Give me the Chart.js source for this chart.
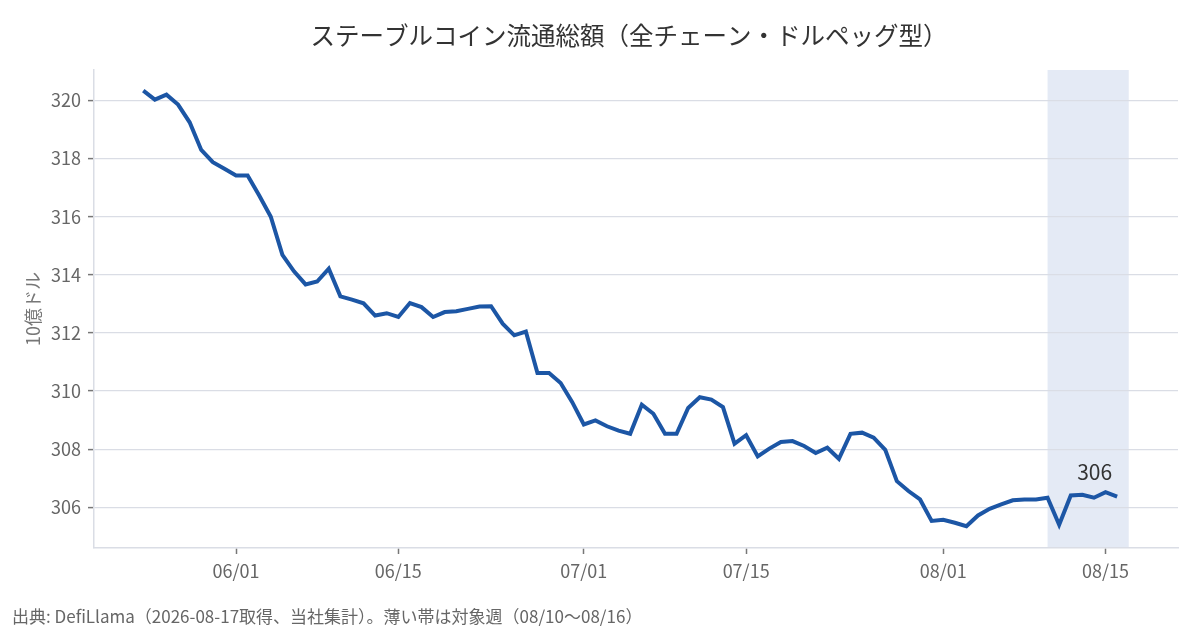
<!DOCTYPE html>
<html lang="ja">
<head>
<meta charset="utf-8">
<script src="https://cdn.jsdelivr.net/npm/chart.js@4.4.1/dist/chart.umd.min.js"></script>
<style>
  html, body { margin: 0; padding: 0; background: #fff; }
  #wrap { width: 1200px; height: 630px; }
</style>
</head>
<body>
<div id="wrap"><canvas id="chart" width="1200" height="630"></canvas></div>
<script>
// ========== データ ==========
const startDate = '2026-05-24';   // 最初の点
const supply = [
    320.34, 320.03, 320.20, 319.86, 319.25, 318.30, 317.88, 317.65, 317.42, 317.42,
    316.73, 316.00, 314.69, 314.12, 313.67, 313.77, 314.21, 313.26, 313.15, 313.02,
    312.60, 312.68, 312.55, 313.03, 312.89, 312.55, 312.72, 312.75, 312.83, 312.91,
    312.92, 312.32, 311.92, 312.05, 310.62, 310.62, 310.28, 309.62, 308.85, 308.99,
    308.79, 308.64, 308.53, 309.53, 309.22, 308.53, 308.53, 309.42, 309.79, 309.71,
    309.45, 308.19, 308.48, 307.75, 308.02, 308.25, 308.28, 308.11, 307.87, 308.05,
    307.67, 308.53, 308.57, 308.40, 307.98, 306.90, 306.56, 306.27, 305.53, 305.57,
    305.47, 305.35, 305.72, 305.95, 306.10, 306.24, 306.27, 306.27, 306.33, 305.40,
    306.41, 306.43, 306.33, 306.52, 306.37
];
const xTickLabels = ['06/01', '06/15', '07/01', '07/15', '08/01', '08/15'];
const yTicks = [306, 308, 310, 312, 314, 316, 318, 320];
const weekBand = ['08/10', '08/16'];

const titleText = 'ステーブルコイン流通総額（全チェーン・ドルペッグ型）';
const yAxisText = '10億ドル';
const footerText = '出典: DefiLlama（2026-08-17取得、当社集計）。薄い帯は対象週（08/10〜08/16）';

// 日付ラベル (MM/DD) を日ごとに作る
const dates = supply.map((_, i) => {
    const d = new Date(startDate + 'T00:00:00Z');
    d.setUTCDate(d.getUTCDate() + i);
    return String(d.getUTCMonth() + 1).padStart(2, '0') + '/' + String(d.getUTCDate()).padStart(2, '0');
});
const points = supply.map((v, i) => ({ x: i, y: v }));
const xTickIdx = xTickLabels.map(l => dates.indexOf(l));

const FONT = '"Noto Sans CJK JP", "Noto Sans", sans-serif';
const GRID = '#dadde5';
const TICK = '#777';

// ========== 帯・文字の描画 ==========
const decor = {
    id: 'decor',
    beforeDraw(chart) {
        const { ctx, chartArea, scales } = chart;
        const x0 = scales.x.getPixelForValue(dates.indexOf(weekBand[0]));
        const x1 = scales.x.getPixelForValue(dates.indexOf(weekBand[1]) + 1);
        ctx.save();
        ctx.fillStyle = '#e4eaf5';
        ctx.fillRect(x0, chartArea.top, x1 - x0, chartArea.bottom - chartArea.top);
        ctx.restore();
    },
    afterDraw(chart) {
        const { ctx, chartArea } = chart;
        ctx.save();
        // タイトル
        ctx.fillStyle = '#333';
        ctx.font = '24.5px ' + FONT;
        ctx.textAlign = 'center';
        ctx.textBaseline = 'middle';
        ctx.fillText(titleText, 629, 36);

        // 縦軸ラベル
        ctx.save();
        ctx.translate(33, (chartArea.top + chartArea.bottom) / 2);
        ctx.rotate(-Math.PI / 2);
        ctx.fillStyle = '#777';
        ctx.font = '18px ' + FONT;
        ctx.fillText(yAxisText, 0, 0);
        ctx.restore();

        // 最新値
        const meta = chart.getDatasetMeta(0);
        const last = meta.data[meta.data.length - 1];
        ctx.fillStyle = '#333';
        ctx.font = '21px ' + FONT;
        ctx.textAlign = 'right';
        ctx.fillText(String(Math.round(supply[supply.length - 1])), last.x - 5, last.y - 25);

        // 出典
        ctx.fillStyle = '#666';
        ctx.font = '17px ' + FONT;
        ctx.textAlign = 'left';
        ctx.fillText(footerText, 12, 617);
        ctx.restore();
    }
};

Chart.defaults.font.family = FONT;

new Chart(document.getElementById('chart'), {
    type: 'line',
    data: {
        datasets: [{
            data: points,
            borderColor: '#1c56a5',
            borderWidth: 4,
            pointRadius: 0,
            tension: 0,
            fill: false
        }]
    },
    options: {
        responsive: false,
        animation: false,
        devicePixelRatio: 1,
        layout: { padding: { top: 70, right: 22, bottom: 0, left: 0 } },
        plugins: { legend: { display: false }, tooltip: { enabled: false } },
        scales: {
            x: {
                type: 'linear',
                min: -4.25,
                max: 89.25,
                afterFit: s => { s.height = 82; },
                afterBuildTicks: s => { s.ticks = xTickIdx.map(v => ({ value: v })); },
                ticks: {
                    color: '#666',
                    font: { size: 18 },
                    padding: 6,
                    maxRotation: 0,
                    autoSkip: false,
                    callback: v => dates[v]
                },
                grid: { drawOnChartArea: false, drawTicks: true, tickLength: 6, tickColor: TICK, tickWidth: 1.5 },
                border: { display: true, color: GRID, width: 1.5 }
            },
            y: {
                min: 304.6,
                max: 321.05,
                afterFit: s => { s.width = 94; },
                afterBuildTicks: s => { s.ticks = yTicks.map(v => ({ value: v })); },
                ticks: { color: '#666', font: { size: 18 }, padding: 7 },
                grid: { color: GRID, lineWidth: 1.2, drawTicks: true, tickLength: 6, tickColor: TICK, tickWidth: 1.5 },
                border: { display: true, color: GRID, width: 1.5 }
            }
        }
    },
    plugins: [decor]
});
</script>
</body>
</html>
